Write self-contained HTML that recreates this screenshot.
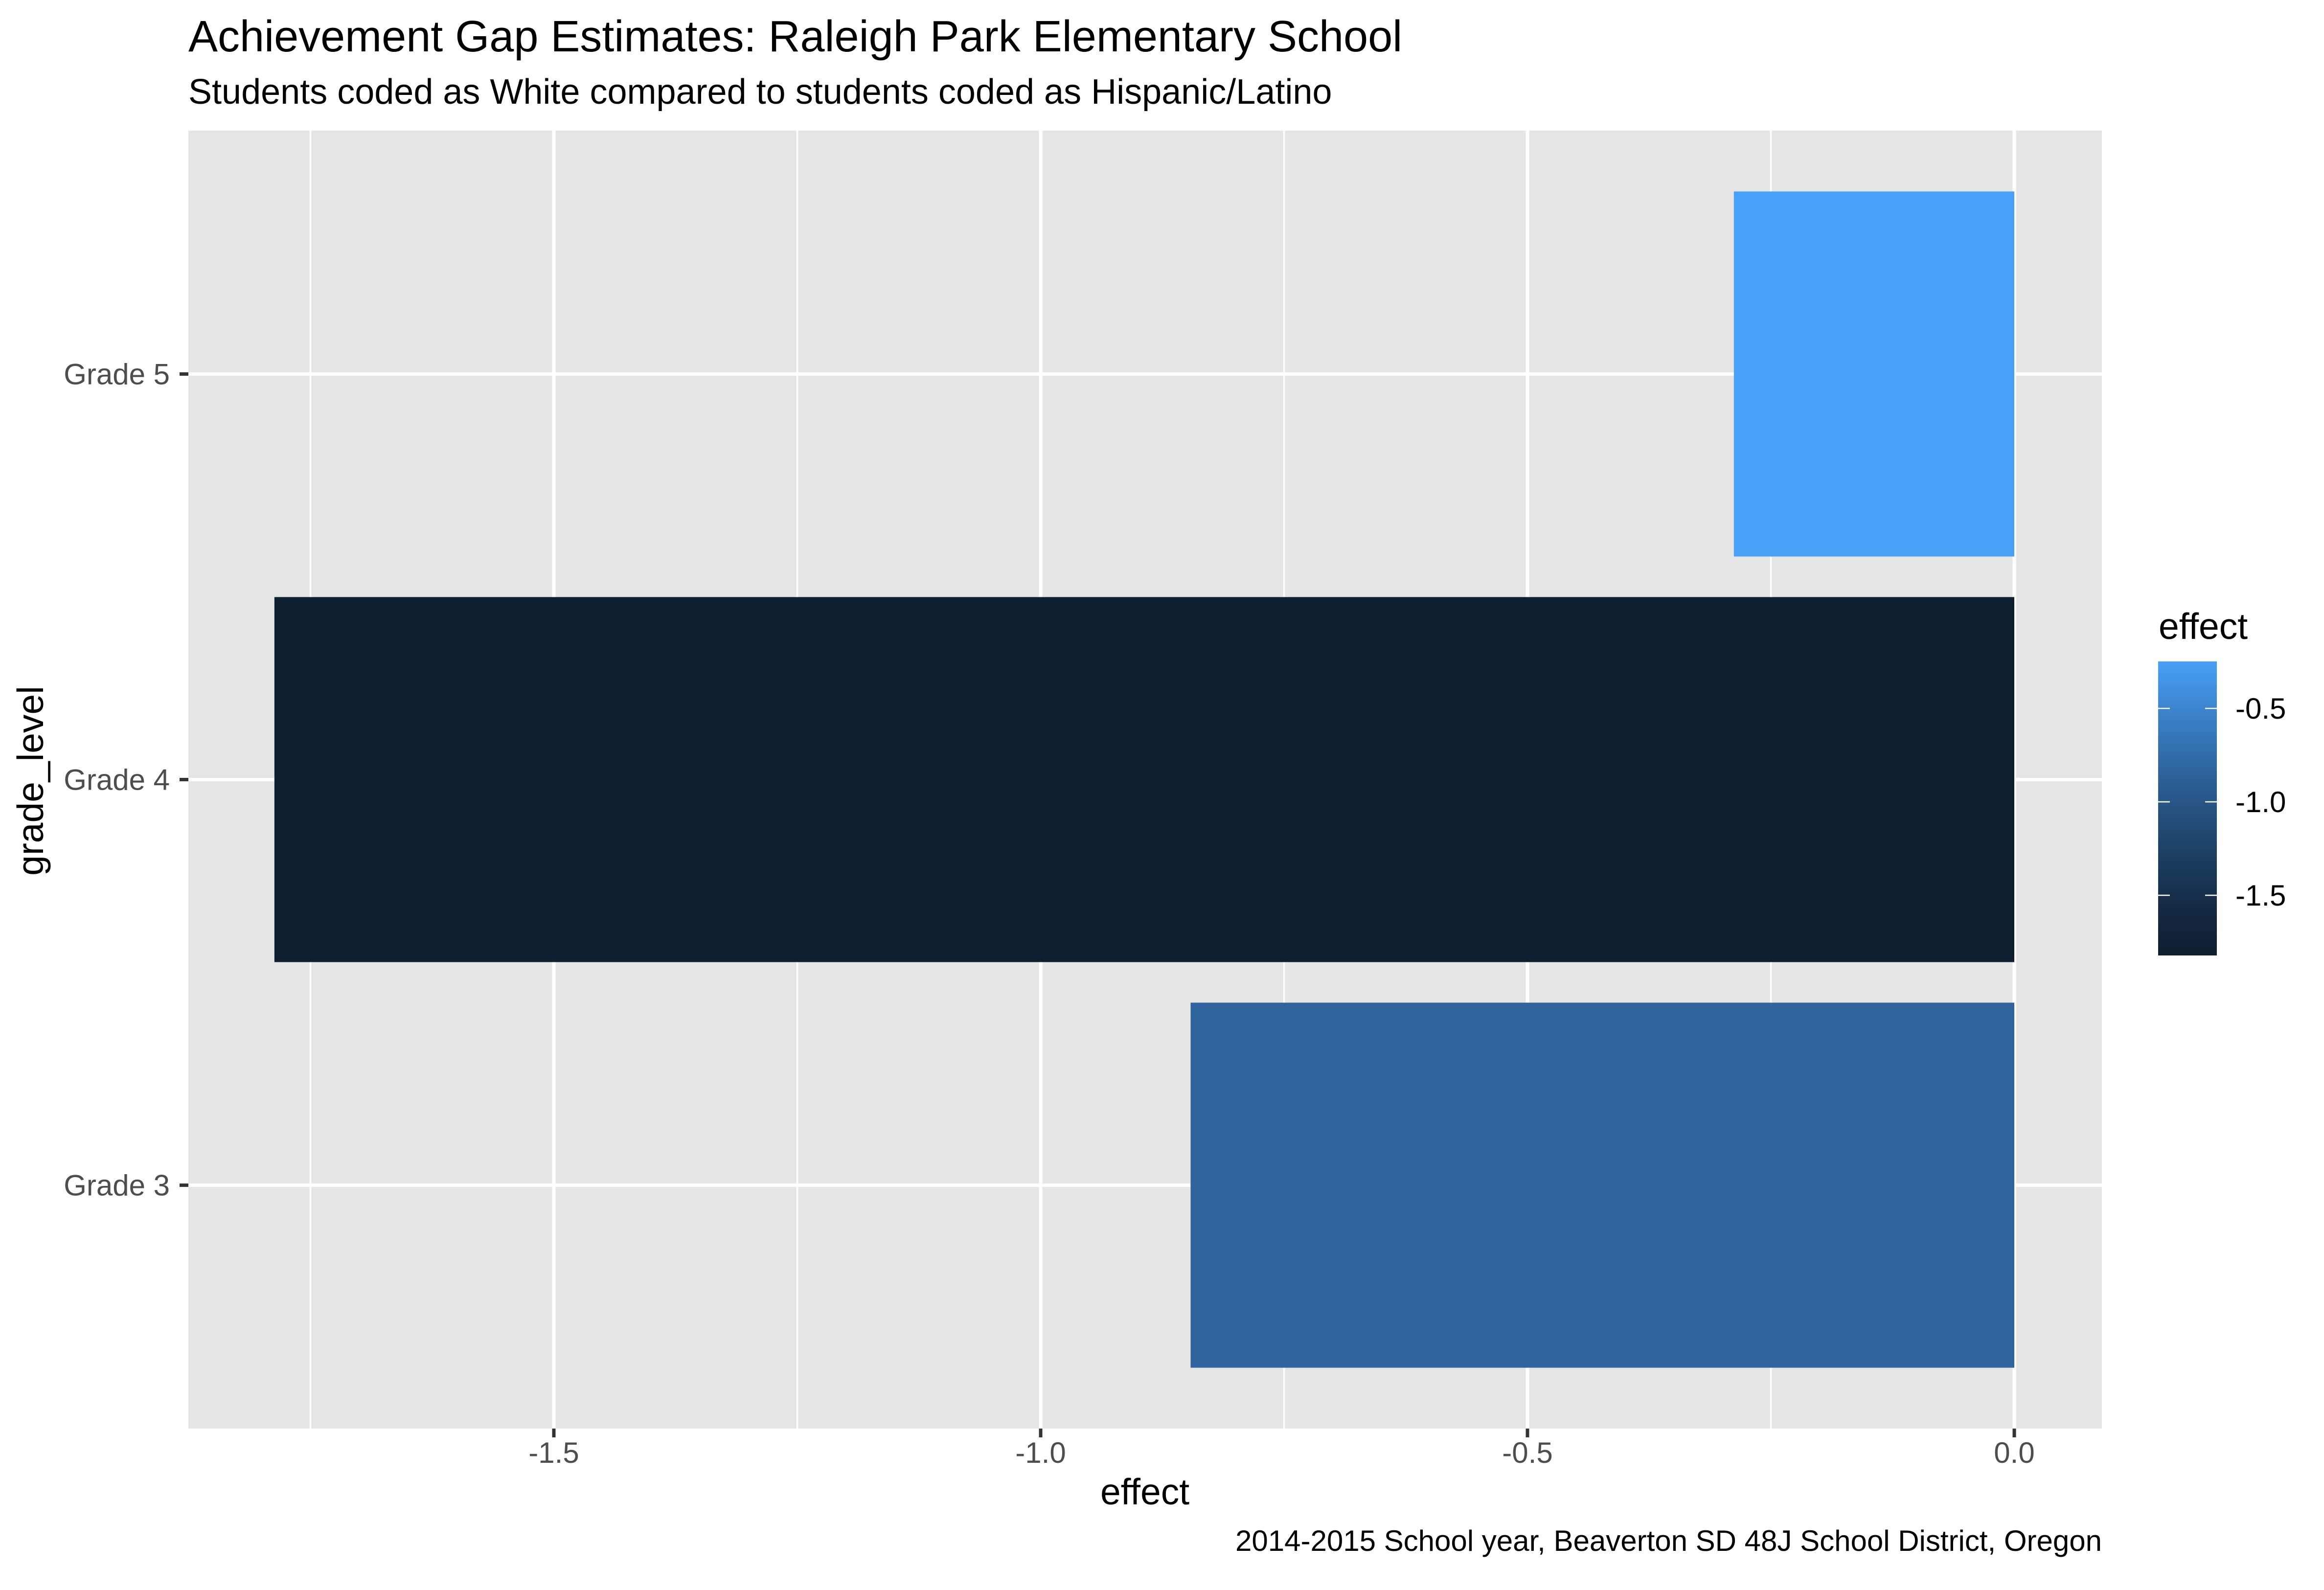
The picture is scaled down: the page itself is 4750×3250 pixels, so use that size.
<!DOCTYPE html>
<html><head><meta charset="utf-8">
<style>
html,body{margin:0;padding:0;background:#fff;}
svg{display:block;font-family:"Liberation Sans",Arial,sans-serif;}
</style></head>
<body>
<svg id="chart" width="4750" height="3250" viewBox="0 0 4750 3250" xmlns="http://www.w3.org/2000/svg">
<defs>
<linearGradient id="cbar" x1="0" y1="1" x2="0" y2="0"></linearGradient>
</defs>
<text x="385" y="105" font-size="90" fill="#000">Achievement Gap Estimates: Raleigh Park Elementary School</text>
<text x="385" y="212" font-size="72" fill="#000">Students coded as White compared to students coded as Hispanic/Latino</text>
<rect x="385" y="267" width="3911" height="2653" fill="#E5E5E5"/>
<g id="grid"></g>
<g id="bars"></g>
<g id="axes"></g>
<text x="2340" y="3075" font-size="75" text-anchor="middle" fill="#000">effect</text>
<text transform="translate(88,1596) rotate(-90)" font-size="75" text-anchor="middle" fill="#000">grade_level</text>
<text x="4296" y="3170" font-size="60" text-anchor="end" fill="#000">2014-2015 School year, Beaverton SD 48J School District, Oregon</text>
<g id="legend">
<text x="4412" y="1306" font-size="75" fill="#000">effect</text>
<rect x="4411" y="1352" width="120" height="601" fill="url(#cbar)"/>
</g>
</svg>
<script>
const categories = ["Grade 3", "Grade 4", "Grade 5"];
const effectValues = [-0.846, -1.787, -0.288];
const xTickValues = [-1.5, -1.0, -0.5, 0.0];
const xTickLabels = ["-1.5", "-1.0", "-0.5", "0.0"];
const xMinorValues = [-1.75, -1.25, -0.75, -0.25];
const legendTickValues = [-0.5, -1.0, -1.5];
const legendTickLabels = ["-0.5", "-1.0", "-1.5"];

const NS = "http://www.w3.org/2000/svg";
const panel = {left:385, right:4296, top:267, bottom:2920};
function xScale(v){ return 4117 + v * 1990; }
const bandUnit = (panel.bottom - panel.top) / (categories.length + 0.2);
function yScale(i){ return panel.bottom - (i + 0.6) * bandUnit; }
const vMin = Math.min(...effectValues), vMax = Math.max(...effectValues);
function lerp(a,b,t){return Math.round(a+(b-a)*t);}
function colorFor(v){
  let t = (v - vMin) / (vMax - vMin);
  t = Math.max(0, Math.min(1, t));
  const lo=[0x0F,0x1F,0x32], hi=[0x47,0x9F,0xF7];
  const tt = Math.pow(t, 1.3);
  return `rgb(${lerp(lo[0],hi[0],tt)},${lerp(lo[1],hi[1],tt)},${lerp(lo[2],hi[2],tt)})`;
}
function mk(tag, attrs, parent){
  const e = document.createElementNS(NS, tag);
  for (const k in attrs) e.setAttribute(k, attrs[k]);
  parent.appendChild(e);
  return e;
}
const grid = document.getElementById('grid');
const bars = document.getElementById('bars');
const axes = document.getElementById('axes');

xMinorValues.forEach(v=>{
  const l = mk('line',{x1:xScale(v),x2:xScale(v),y1:panel.top,y2:panel.bottom,stroke:'#fff','stroke-width':3.5},grid);
  
  
});
xTickValues.forEach((v,i)=>{
  const x = xScale(v);
  const l = mk('line',{x1:x,x2:x,y1:panel.top,y2:panel.bottom,stroke:'#fff','stroke-width':7},grid);
  
  
  const t = mk('line',{x1:x,x2:x,y1:panel.bottom,y2:panel.bottom+18,stroke:'#333','stroke-width':7},axes);
  
  
  const lab = mk('text',{x:x,y:2990,'font-size':60,'text-anchor':'middle',fill:'#4D4D4D'},axes);
  lab.textContent = xTickLabels[i];
  
  
});
categories.forEach((c,i)=>{
  const y = yScale(i);
  const l = mk('line',{x1:panel.left,x2:panel.right,y1:y,y2:y,stroke:'#fff','stroke-width':7},grid);
  
  
  const t = mk('line',{x1:panel.left-18,x2:panel.left,y1:y,y2:y,stroke:'#333','stroke-width':7},axes);
  
  
  const lab = mk('text',{x:347,y:y+21,'font-size':60,'text-anchor':'end',fill:'#4D4D4D'},axes);
  lab.textContent = c;
  
  
  const v = effectValues[i];
  const x0 = xScale(Math.min(0,v)), x1 = xScale(Math.max(0,v));
  const h = bandUnit*0.9;
  const b = mk('rect',{x:x0,y:y-h/2,width:x1-x0,height:h,fill:colorFor(v)},bars);
  
  
});
const grad = document.getElementById('cbar');
for (let k=0;k<=20;k++){
  const s = mk('stop',{offset:k/20,'stop-color':colorFor(vMin + (vMax-vMin)*k/20)},grad);
}
const legend = document.getElementById('legend');
function legendY(v){ return 1448 + (-0.5 - v) * 382; }
legendTickValues.forEach((v,i)=>{
  const y = legendY(v);
  const a = mk('line',{x1:4411,x2:4435,y1:y,y2:y,stroke:'#fff','stroke-width':2.5},legend);
  
  
  const b = mk('line',{x1:4507,x2:4531,y1:y,y2:y,stroke:'#fff','stroke-width':2.5},legend);
  
  
  const t = mk('text',{x:4569,y:y+21,'font-size':60,fill:'#000'},legend);
  t.textContent = legendTickLabels[i];
  
  
});
</script>
</body></html>
